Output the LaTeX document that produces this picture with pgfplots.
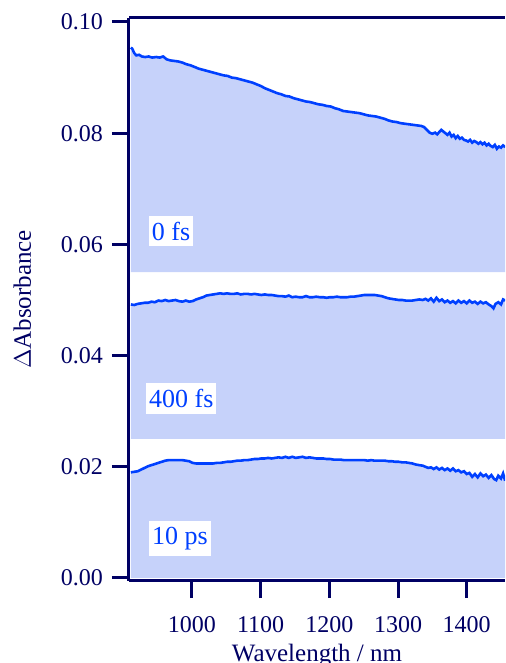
\documentclass[border=0pt]{standalone}
\usepackage{fontspec}
\setmainfont{Liberation Serif}
\usepackage{pgfplots}
\pgfplotsset{compat=1.18}
\usepackage{pgfplotstable}
\usetikzlibrary{calc}
\definecolor{axc}{RGB}{0,0,100}
\definecolor{linec}{RGB}{0,64,255}
\definecolor{fillc}{RGB}{198,210,250}

\pgfplotstableread{
x y
911 0.0954
913 0.0952
916 0.0944
919 0.0940
923 0.0941
927 0.0938
932 0.0937
937 0.0938
942 0.0936
948 0.0937
953 0.0936
958 0.0938
963 0.0933
968 0.0931
974 0.0930
980 0.0929
986 0.0927
992 0.0924
998 0.0922
1004 0.0919
1010 0.0916
1016 0.0914
1022 0.0912
1028 0.0910
1034 0.0908
1040 0.0906
1046 0.0904
1052 0.0903
1058 0.0900
1064 0.0899
1070 0.0897
1076 0.0895
1082 0.0893
1088 0.0891
1094 0.0888
1100 0.0885
1106 0.0881
1112 0.0878
1118 0.0875
1124 0.0872
1130 0.0870
1136 0.0867
1142 0.0866
1148 0.0863
1154 0.0861
1160 0.0859
1166 0.0857
1172 0.0856
1178 0.0854
1184 0.0852
1190 0.0851
1196 0.0849
1202 0.0848
1208 0.0845
1214 0.0843
1220 0.0840
1226 0.0839
1232 0.0838
1238 0.0837
1244 0.0836
1250 0.0834
1256 0.0832
1262 0.0831
1268 0.0830
1274 0.0828
1280 0.0826
1286 0.0823
1292 0.0821
1298 0.0820
1304 0.0818
1310 0.0817
1316 0.0816
1322 0.0815
1328 0.0814
1334 0.0813
1338 0.0811
1342 0.0806
1346 0.0801
1350 0.0799
1354 0.0801
1357 0.0798
1360 0.0802
1363 0.0806
1366 0.0803
1369 0.0800
1372 0.0797
1375 0.0801
1378 0.0794
1381 0.0797
1384 0.0791
1387 0.0795
1390 0.0790
1393 0.0792
1396 0.0788
1399 0.0787
1402 0.0785
1405 0.0788
1408 0.0783
1411 0.0786
1414 0.0784
1417 0.0781
1420 0.0784
1423 0.0780
1426 0.0783
1429 0.0778
1432 0.0781
1435 0.0777
1438 0.0775
1441 0.0779
1444 0.0772
1447 0.0776
1450 0.0774
1453 0.0778
1456 0.0775
}\zerofs

\pgfplotstableread{
x y
911 0.0492
916 0.0491
921 0.0493
926 0.0494
931 0.0495
936 0.0495
941 0.0497
946 0.0496
951 0.0499
956 0.0498
961 0.0500
966 0.0498
971 0.0499
976 0.0500
981 0.0498
986 0.0497
991 0.0499
996 0.0497
1001 0.0498
1006 0.0501
1011 0.0503
1016 0.0505
1021 0.0508
1026 0.0509
1031 0.0510
1036 0.0511
1041 0.0512
1046 0.0511
1051 0.0512
1056 0.0511
1061 0.0511
1066 0.0512
1071 0.0510
1076 0.0511
1081 0.0511
1086 0.0510
1091 0.0511
1096 0.0510
1101 0.0509
1106 0.0510
1111 0.0509
1116 0.0509
1121 0.0508
1126 0.0507
1131 0.0507
1136 0.0506
1141 0.0508
1146 0.0505
1151 0.0506
1156 0.0505
1161 0.0505
1166 0.0507
1171 0.0505
1176 0.0505
1181 0.0506
1186 0.0505
1191 0.0505
1196 0.0504
1201 0.0505
1206 0.0505
1211 0.0506
1216 0.0505
1221 0.0505
1226 0.0505
1231 0.0506
1236 0.0506
1241 0.0507
1246 0.0508
1251 0.0509
1256 0.0509
1261 0.0509
1266 0.0509
1271 0.0508
1276 0.0507
1281 0.0505
1286 0.0503
1291 0.0502
1296 0.0501
1301 0.0500
1306 0.0500
1311 0.0499
1316 0.0499
1321 0.0499
1326 0.0500
1331 0.0501
1336 0.0500
1340 0.0502
1344 0.0499
1348 0.0503
1352 0.0497
1356 0.0504
1360 0.0498
1364 0.0501
1368 0.0496
1372 0.0499
1376 0.0495
1380 0.0498
1384 0.0494
1388 0.0499
1392 0.0495
1396 0.0498
1400 0.0494
1404 0.0499
1408 0.0495
1412 0.0497
1416 0.0493
1420 0.0497
1424 0.0494
1428 0.0496
1432 0.0492
1436 0.0489
1439 0.0485
1442 0.0493
1446 0.0496
1450 0.0492
1453 0.0501
1456 0.0499
}\fourfs

\pgfplotstableread{
x y
911 0.0190
916 0.0191
921 0.0192
926 0.0195
931 0.0198
936 0.0201
941 0.0203
946 0.0205
951 0.0207
956 0.0209
961 0.0211
966 0.0212
971 0.0212
976 0.0212
981 0.0212
986 0.0212
991 0.0211
996 0.0210
1001 0.0207
1006 0.0206
1011 0.0206
1016 0.0206
1021 0.0206
1026 0.0206
1031 0.0206
1036 0.0207
1041 0.0207
1046 0.0208
1051 0.0209
1056 0.0209
1061 0.0210
1066 0.0211
1071 0.0211
1076 0.0212
1081 0.0212
1086 0.0213
1091 0.0214
1096 0.0214
1101 0.0215
1106 0.0215
1111 0.0216
1116 0.0215
1121 0.0216
1126 0.0217
1131 0.0216
1136 0.0218
1141 0.0216
1146 0.0218
1151 0.0216
1156 0.0217
1161 0.0218
1166 0.0216
1171 0.0217
1176 0.0216
1181 0.0215
1186 0.0215
1191 0.0215
1196 0.0214
1201 0.0214
1206 0.0213
1211 0.0213
1216 0.0213
1221 0.0212
1226 0.0212
1231 0.0212
1236 0.0212
1241 0.0212
1246 0.0212
1251 0.0212
1256 0.0211
1261 0.0212
1266 0.0211
1271 0.0211
1276 0.0211
1281 0.0211
1286 0.0210
1291 0.0210
1296 0.0209
1301 0.0209
1306 0.0208
1311 0.0208
1316 0.0207
1321 0.0206
1326 0.0204
1331 0.0203
1336 0.0202
1340 0.0200
1344 0.0198
1348 0.0199
1352 0.0196
1356 0.0199
1360 0.0195
1364 0.0198
1368 0.0194
1372 0.0197
1376 0.0193
1380 0.0197
1384 0.0192
1388 0.0194
1392 0.0190
1396 0.0192
1400 0.0187
1404 0.0189
1408 0.0182
1412 0.0187
1416 0.0181
1420 0.0188
1424 0.0183
1428 0.0186
1432 0.0180
1436 0.0185
1440 0.0178
1443 0.0176
1446 0.0184
1450 0.0179
1453 0.0188
1456 0.0175
}\tenps

\begin{document}
\begin{tikzpicture}
\begin{axis}[
  name=ax,
  scale only axis,
  width=188pt, height=281.5pt,
  xmin=908.3, xmax=1455.8,
  ymin=-0.00054, ymax=0.10072,
  axis x line*=bottom,
  axis y line*=left,
  axis line style={axc, line width=1.5pt, -},
  tick style={axc, line width=1.5pt},
  tick align=outside,
  major tick length=8.5pt,
  xtick={1000,1100,1200,1300,1400},
  ytick={0,0.02,0.04,0.06,0.08,0.10},
  xticklabel style={/pgf/number format/.cd, set thousands separator={}, /tikz/.cd, yshift=-5.5pt},
  yticklabel style={/pgf/number format/.cd, fixed, fixed zerofill, precision=2, /tikz/.cd, xshift=-1pt},
  /pgf/number format/assume math mode=true,
  ticklabel style={font=\fontsize{12}{14}\selectfont, text=axc},
  xlabel={Wavelength / nm},
  ylabel={$\Delta$Absorbance},
  label style={font=\fontsize{12.5}{14}\selectfont, text=axc},
  xlabel style={yshift=1pt},
  ylabel style={yshift=8pt},
  clip=true,
]
\addplot[fill=fillc, draw=none] table {\zerofs} |- (axis cs:911,0.055) -- cycle;
\addplot[fill=fillc, draw=none] table {\fourfs} |- (axis cs:911,0.025) -- cycle;
\addplot[fill=fillc, draw=none] table {\tenps} |- (axis cs:911,0) -- cycle;
\addplot[linec, line width=1.3pt] table {\zerofs};
\addplot[linec, line width=1.3pt] table {\fourfs};
\addplot[linec, line width=1.3pt] table {\tenps};
\node[fill=white, text=linec, inner xsep=1.5pt, inner ysep=3pt, font=\fontsize{13}{15}\selectfont] at (axis cs:969.5,0.0624) {0 fs};
\node[fill=white, text=linec, inner xsep=1.5pt, inner ysep=3pt, font=\fontsize{13}{15}\selectfont] at (axis cs:984.5,0.0323) {400 fs};
\node[fill=white, text=linec, inner xsep=1.5pt, inner ysep=3pt, font=\fontsize{13}{15}\selectfont] at (axis cs:982.4,0.00714) {10 ps};
\end{axis}
\draw[axc, line width=1.5pt] (ax.north west) -- (ax.north east);
\pgfresetboundingbox
\path[use as bounding box] ($(ax.south west)+(-64.5pt,-41pt)$) rectangle ($(ax.north east)+(0pt,9pt)$);
\end{tikzpicture}
\end{document}
